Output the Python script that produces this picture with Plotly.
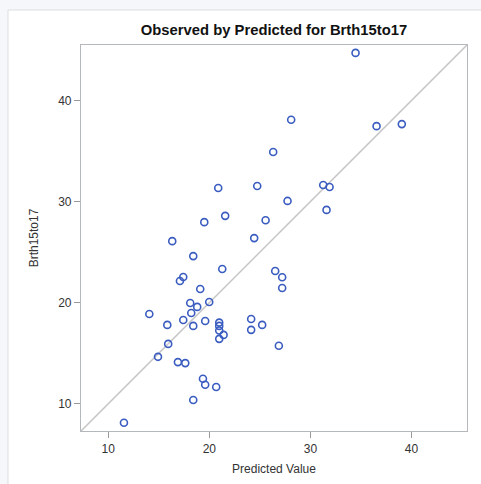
import plotly.graph_objects as go

# Predicted vs observed values of Brth15to17 (one point per state)
predicted = [34.47, 28.10, 36.55, 39.05, 26.32, 20.88, 24.74, 31.27, 31.90, 27.74,
             31.60, 21.57, 19.50, 25.57, 16.33, 24.44, 18.41, 21.28, 26.52, 27.21,
             27.21, 17.42, 17.09, 19.10, 18.11, 19.99, 18.80, 18.21, 14.06, 17.42,
             15.84, 18.41, 19.59, 20.98, 20.98, 20.98, 21.41, 20.98, 24.14, 25.23,
             24.14, 26.88, 15.93, 14.92, 16.89, 17.62, 19.37, 19.59, 20.68, 18.41,
             11.55]
observed = [44.72, 38.10, 37.47, 37.67, 34.91, 31.35, 31.55, 31.65, 31.45, 30.07,
            29.18, 28.59, 27.97, 28.16, 26.09, 26.39, 24.61, 23.33, 23.13, 22.51,
            21.45, 22.54, 22.14, 21.35, 19.97, 20.07, 19.58, 18.98, 18.88, 18.29,
            17.80, 17.70, 18.19, 18.03, 17.70, 17.24, 16.81, 16.42, 18.39, 17.80,
            17.31, 15.73, 15.92, 14.64, 14.12, 14.02, 12.47, 11.88, 11.65, 10.37,
            8.12]

axis_range = [7.3, 45.5]
tick_vals = [10, 20, 30, 40]

W, H = 481, 484
L, R, T, B = 81, 14, 45, 53
pw, ph = W - L - R, H - T - B

fig = go.Figure()

# Identity reference line across the full axis range
fig.add_trace(go.Scatter(
    x=axis_range, y=axis_range, mode="lines",
    line=dict(color="#c4c4c4", width=1.5),
    hoverinfo="skip", showlegend=False,
))

fig.add_trace(go.Scatter(
    x=predicted, y=observed, mode="markers",
    marker=dict(symbol="circle-open", size=7, color="#3a5cc0",
                line=dict(width=1.6, color="#3a5cc0")),
    showlegend=False,
))

axis_style = dict(
    range=axis_range, tickvals=tick_vals, ticks="outside", ticklen=6,
    tickcolor="#9a9a9a", tickwidth=1, showgrid=False, zeroline=False,
    showline=True, linecolor="#b4b8bc", linewidth=1.2, mirror=True,
    automargin=False,
    tickfont=dict(family="Liberation Sans, Arial", size=12, color="#333333"),
    title_font=dict(family="Liberation Sans, Arial", size=12, color="#333333"),
)

fig.update_layout(
    width=W, height=H,
    margin=dict(l=L, r=R, t=T, b=B),
    paper_bgcolor="#f6f7fb",
    plot_bgcolor="white",
    title=dict(
        text="<b>Observed by Predicted for Brth15to17</b>",
        x=(L + pw / 2) / W, xanchor="center",
        y=1 - 30 / H, yanchor="middle",
        font=dict(family="Liberation Sans, Arial", size=14.8, color="#111111"),
    ),
    xaxis=dict(title=dict(text="Predicted Value", standoff=10), **axis_style),
    yaxis=dict(title=dict(text="Brth15to17", standoff=16), **axis_style),
    shapes=[
        # white output panel behind the chart
        dict(type="rect", xref="paper", yref="paper", layer="below",
             x0=(8 - L) / pw, x1=(W + 10 - L) / pw,
             y0=-(H + 10 - (T + ph)) / ph, y1=(T + ph - 10) / ph,
             fillcolor="white", line=dict(color="#dcdde0", width=1)),
    ],
)

fig.write_html("out.html")
